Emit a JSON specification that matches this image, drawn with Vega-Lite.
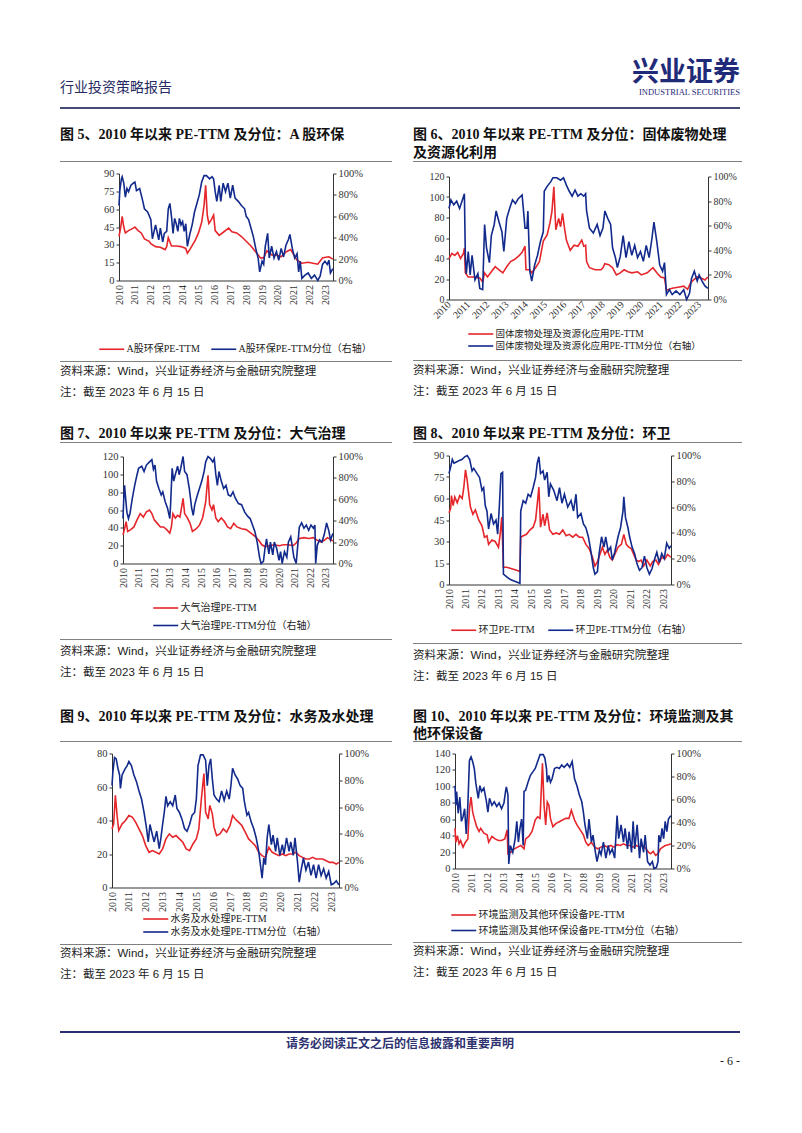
{
"$schema": "https://vega.github.io/schema/vega-lite/v6.json",
"background": "white",
"padding": {"left": 60, "top": 58, "right": 0, "bottom": 0},
"spacing": 0,
"datasets": {
"d5a": [{"t":2010,"v":37},{"t":2010.1,"v":44},{"t":2010.2,"v":54},{"t":2010.3,"v":45},{"t":2010.4,"v":40},{"t":2010.6,"v":42},{"t":2010.9,"v":44},{"t":2011,"v":45},{"t":2011.2,"v":42},{"t":2011.4,"v":40},{"t":2011.6,"v":35},{"t":2011.9,"v":33},{"t":2012,"v":31},{"t":2012.3,"v":28.5},{"t":2012.6,"v":28},{"t":2012.9,"v":26},{"t":2013,"v":28.5},{"t":2013.1,"v":36},{"t":2013.3,"v":29},{"t":2013.6,"v":29},{"t":2013.9,"v":28.5},{"t":2014.2,"v":27},{"t":2014.3,"v":23},{"t":2014.5,"v":27},{"t":2014.8,"v":34},{"t":2015,"v":40},{"t":2015.2,"v":49},{"t":2015.35,"v":63},{"t":2015.45,"v":80},{"t":2015.55,"v":55},{"t":2015.65,"v":48},{"t":2015.8,"v":51},{"t":2015.95,"v":55},{"t":2016.05,"v":42},{"t":2016.3,"v":38},{"t":2016.6,"v":41},{"t":2016.9,"v":44},{"t":2017.1,"v":41},{"t":2017.4,"v":40},{"t":2017.7,"v":37},{"t":2018,"v":33},{"t":2018.3,"v":29},{"t":2018.6,"v":24},{"t":2018.9,"v":19},{"t":2019.1,"v":19},{"t":2019.3,"v":25},{"t":2019.6,"v":21.5},{"t":2019.9,"v":21.5},{"t":2020.2,"v":20},{"t":2020.5,"v":24},{"t":2020.8,"v":26},{"t":2021,"v":21.5},{"t":2021.2,"v":17},{"t":2021.5,"v":14.5},{"t":2021.9,"v":15.4},{"t":2022.2,"v":14.5},{"t":2022.5,"v":13.7},{"t":2022.8,"v":19},{"t":2023,"v":19.5},{"t":2023.2,"v":20},{"t":2023.45,"v":18}],
"d5b": [{"t":2010,"v":70},{"t":2010.05,"v":84},{"t":2010.15,"v":95},{"t":2010.2,"v":97},{"t":2010.3,"v":91},{"t":2010.4,"v":78},{"t":2010.5,"v":86},{"t":2010.6,"v":83},{"t":2010.75,"v":89},{"t":2010.9,"v":91},{"t":2011,"v":92},{"t":2011.1,"v":84},{"t":2011.3,"v":86},{"t":2011.5,"v":74},{"t":2011.6,"v":67},{"t":2011.8,"v":64},{"t":2012,"v":57},{"t":2012.1,"v":39},{"t":2012.3,"v":52},{"t":2012.5,"v":38},{"t":2012.6,"v":49},{"t":2012.75,"v":36},{"t":2012.85,"v":44},{"t":2013,"v":46},{"t":2013.1,"v":67},{"t":2013.2,"v":72},{"t":2013.3,"v":60},{"t":2013.4,"v":44},{"t":2013.5,"v":58},{"t":2013.6,"v":53},{"t":2013.7,"v":46},{"t":2013.8,"v":58},{"t":2013.9,"v":52},{"t":2014,"v":55},{"t":2014.1,"v":46},{"t":2014.2,"v":53},{"t":2014.3,"v":32},{"t":2014.45,"v":43},{"t":2014.6,"v":52},{"t":2014.75,"v":64},{"t":2014.9,"v":72},{"t":2015.05,"v":80},{"t":2015.2,"v":92},{"t":2015.35,"v":98},{"t":2015.5,"v":98},{"t":2015.7,"v":95},{"t":2015.85,"v":97},{"t":2015.95,"v":95},{"t":2016.05,"v":83},{"t":2016.15,"v":74},{"t":2016.3,"v":89},{"t":2016.4,"v":74},{"t":2016.55,"v":91},{"t":2016.7,"v":83},{"t":2016.85,"v":91},{"t":2017,"v":77},{"t":2017.15,"v":89},{"t":2017.3,"v":77},{"t":2017.5,"v":74},{"t":2017.7,"v":70},{"t":2017.9,"v":67},{"t":2018,"v":60},{"t":2018.15,"v":57},{"t":2018.3,"v":49},{"t":2018.45,"v":41},{"t":2018.6,"v":30},{"t":2018.75,"v":21},{"t":2018.85,"v":8},{"t":2019,"v":18},{"t":2019.1,"v":15},{"t":2019.2,"v":32},{"t":2019.35,"v":44},{"t":2019.45,"v":21},{"t":2019.6,"v":32},{"t":2019.75,"v":21},{"t":2019.9,"v":27},{"t":2020.05,"v":19},{"t":2020.2,"v":30},{"t":2020.35,"v":22},{"t":2020.5,"v":33},{"t":2020.65,"v":38},{"t":2020.75,"v":43},{"t":2020.9,"v":30},{"t":2021.05,"v":21},{"t":2021.2,"v":25},{"t":2021.3,"v":8},{"t":2021.4,"v":18},{"t":2021.5,"v":2},{"t":2021.7,"v":5},{"t":2021.9,"v":7},{"t":2022.1,"v":2},{"t":2022.3,"v":5},{"t":2022.5,"v":0},{"t":2022.65,"v":4},{"t":2022.8,"v":15},{"t":2022.95,"v":18},{"t":2023.1,"v":15},{"t":2023.2,"v":19},{"t":2023.3,"v":7},{"t":2023.45,"v":11}],
"d6a": [{"t":2010,"v":40},{"t":2010.15,"v":45},{"t":2010.3,"v":43},{"t":2010.45,"v":46},{"t":2010.6,"v":40},{"t":2010.75,"v":45},{"t":2010.8,"v":50},{"t":2010.85,"v":26},{"t":2011,"v":22},{"t":2011.3,"v":22},{"t":2011.6,"v":21},{"t":2011.75,"v":17},{"t":2011.85,"v":26},{"t":2012,"v":22},{"t":2012.2,"v":27},{"t":2012.4,"v":32},{"t":2012.6,"v":29},{"t":2012.8,"v":26},{"t":2013,"v":32},{"t":2013.2,"v":37},{"t":2013.4,"v":39},{"t":2013.6,"v":42},{"t":2013.8,"v":46},{"t":2013.95,"v":52},{"t":2014,"v":29},{"t":2014.2,"v":29},{"t":2014.3,"v":26},{"t":2014.5,"v":31},{"t":2014.7,"v":37},{"t":2014.9,"v":57},{"t":2015.1,"v":63},{"t":2015.25,"v":75},{"t":2015.35,"v":86},{"t":2015.45,"v":110},{"t":2015.55,"v":68},{"t":2015.7,"v":79},{"t":2015.8,"v":71},{"t":2015.9,"v":84},{"t":2016,"v":70},{"t":2016.1,"v":58},{"t":2016.3,"v":48},{"t":2016.5,"v":53},{"t":2016.7,"v":52},{"t":2016.9,"v":58},{"t":2017,"v":52},{"t":2017.1,"v":53},{"t":2017.15,"v":37},{"t":2017.3,"v":31},{"t":2017.6,"v":29},{"t":2017.9,"v":29},{"t":2018,"v":31},{"t":2018.1,"v":35},{"t":2018.3,"v":34},{"t":2018.5,"v":31},{"t":2018.7,"v":24},{"t":2018.9,"v":26},{"t":2019.1,"v":29},{"t":2019.3,"v":27},{"t":2019.5,"v":26},{"t":2019.8,"v":27},{"t":2020,"v":24},{"t":2020.3,"v":26},{"t":2020.6,"v":31},{"t":2020.8,"v":26},{"t":2021,"v":22},{"t":2021.2,"v":21},{"t":2021.3,"v":9},{"t":2021.6,"v":11},{"t":2021.9,"v":12},{"t":2022.2,"v":13},{"t":2022.4,"v":10},{"t":2022.55,"v":16},{"t":2022.7,"v":19},{"t":2022.9,"v":22},{"t":2023.1,"v":21},{"t":2023.3,"v":19},{"t":2023.45,"v":22}],
"d6b": [{"t":2010,"v":74},{"t":2010.1,"v":81},{"t":2010.25,"v":77},{"t":2010.4,"v":80},{"t":2010.55,"v":74},{"t":2010.7,"v":81},{"t":2010.8,"v":86},{"t":2010.85,"v":34},{"t":2010.9,"v":21},{"t":2011,"v":39},{"t":2011.1,"v":20},{"t":2011.2,"v":36},{"t":2011.35,"v":16},{"t":2011.5,"v":21},{"t":2011.6,"v":9},{"t":2011.75,"v":8},{"t":2011.85,"v":61},{"t":2011.95,"v":42},{"t":2012.1,"v":30},{"t":2012.2,"v":52},{"t":2012.35,"v":61},{"t":2012.45,"v":72},{"t":2012.6,"v":63},{"t":2012.75,"v":55},{"t":2012.85,"v":39},{"t":2013,"v":66},{"t":2013.15,"v":74},{"t":2013.3,"v":81},{"t":2013.45,"v":78},{"t":2013.6,"v":82},{"t":2013.8,"v":85},{"t":2013.95,"v":58},{"t":2014.05,"v":58},{"t":2014.1,"v":72},{"t":2014.2,"v":23},{"t":2014.3,"v":15},{"t":2014.45,"v":28},{"t":2014.6,"v":36},{"t":2014.75,"v":47},{"t":2014.9,"v":55},{"t":2014.95,"v":88},{"t":2015.1,"v":92},{"t":2015.3,"v":96},{"t":2015.4,"v":99},{"t":2015.6,"v":99},{"t":2015.8,"v":97},{"t":2015.95,"v":99},{"t":2016.1,"v":93},{"t":2016.25,"v":88},{"t":2016.4,"v":84},{"t":2016.55,"v":89},{"t":2016.7,"v":84},{"t":2016.85,"v":86},{"t":2017,"v":84},{"t":2017.1,"v":86},{"t":2017.15,"v":72},{"t":2017.3,"v":58},{"t":2017.5,"v":54},{"t":2017.7,"v":61},{"t":2017.85,"v":52},{"t":2018,"v":58},{"t":2018.1,"v":72},{"t":2018.25,"v":66},{"t":2018.4,"v":61},{"t":2018.5,"v":42},{"t":2018.65,"v":34},{"t":2018.75,"v":26},{"t":2018.9,"v":35},{"t":2019.05,"v":52},{"t":2019.2,"v":34},{"t":2019.35,"v":47},{"t":2019.5,"v":36},{"t":2019.65,"v":44},{"t":2019.8,"v":34},{"t":2019.95,"v":39},{"t":2020.1,"v":31},{"t":2020.25,"v":44},{"t":2020.4,"v":34},{"t":2020.55,"v":50},{"t":2020.65,"v":63},{"t":2020.8,"v":47},{"t":2020.95,"v":28},{"t":2021.1,"v":23},{"t":2021.2,"v":30},{"t":2021.3,"v":4},{"t":2021.45,"v":8},{"t":2021.6,"v":4},{"t":2021.8,"v":7},{"t":2022,"v":4},{"t":2022.2,"v":8},{"t":2022.35,"v":0},{"t":2022.5,"v":5},{"t":2022.6,"v":17},{"t":2022.75,"v":23},{"t":2022.9,"v":15},{"t":2023,"v":20},{"t":2023.15,"v":15},{"t":2023.3,"v":11},{"t":2023.45,"v":9}],
"d7a": [{"t":2010,"v":32},{"t":2010.1,"v":39},{"t":2010.2,"v":47},{"t":2010.3,"v":36},{"t":2010.5,"v":38},{"t":2010.7,"v":41},{"t":2010.9,"v":49},{"t":2011.1,"v":56},{"t":2011.3,"v":52},{"t":2011.5,"v":58},{"t":2011.7,"v":60},{"t":2011.85,"v":56},{"t":2012,"v":49},{"t":2012.2,"v":45},{"t":2012.4,"v":41},{"t":2012.6,"v":41},{"t":2012.8,"v":38},{"t":2013,"v":34},{"t":2013.1,"v":41},{"t":2013.2,"v":56},{"t":2013.35,"v":51},{"t":2013.5,"v":54},{"t":2013.65,"v":52},{"t":2013.85,"v":73},{"t":2013.95,"v":56},{"t":2014.1,"v":52},{"t":2014.3,"v":45},{"t":2014.45,"v":36},{"t":2014.7,"v":39},{"t":2014.9,"v":43},{"t":2015.1,"v":51},{"t":2015.3,"v":69},{"t":2015.45,"v":99},{"t":2015.55,"v":66},{"t":2015.7,"v":60},{"t":2015.8,"v":66},{"t":2015.95,"v":51},{"t":2016.1,"v":47},{"t":2016.3,"v":51},{"t":2016.5,"v":47},{"t":2016.7,"v":41},{"t":2016.9,"v":39},{"t":2017.1,"v":45},{"t":2017.3,"v":41},{"t":2017.6,"v":39},{"t":2017.9,"v":38},{"t":2018.2,"v":34},{"t":2018.5,"v":30},{"t":2018.7,"v":26},{"t":2018.9,"v":21},{"t":2019.1,"v":19},{"t":2019.4,"v":20},{"t":2019.7,"v":21},{"t":2020,"v":20},{"t":2020.3,"v":21},{"t":2020.6,"v":21},{"t":2020.9,"v":20},{"t":2021.1,"v":23},{"t":2021.3,"v":28},{"t":2021.6,"v":29},{"t":2021.9,"v":28},{"t":2022.2,"v":29},{"t":2022.45,"v":26},{"t":2022.7,"v":24},{"t":2022.9,"v":26},{"t":2023.1,"v":29},{"t":2023.3,"v":27},{"t":2023.45,"v":25}],
"d7b": [{"t":2010,"v":42},{"t":2010.05,"v":61},{"t":2010.1,"v":73},{"t":2010.15,"v":64},{"t":2010.25,"v":48},{"t":2010.35,"v":42},{"t":2010.45,"v":47},{"t":2010.6,"v":61},{"t":2010.75,"v":73},{"t":2010.9,"v":83},{"t":2011,"v":89},{"t":2011.2,"v":91},{"t":2011.35,"v":86},{"t":2011.5,"v":92},{"t":2011.7,"v":95},{"t":2011.85,"v":97},{"t":2011.95,"v":88},{"t":2012.05,"v":92},{"t":2012.15,"v":77},{"t":2012.3,"v":70},{"t":2012.45,"v":64},{"t":2012.55,"v":67},{"t":2012.7,"v":58},{"t":2012.85,"v":52},{"t":2013,"v":42},{"t":2013.05,"v":55},{"t":2013.15,"v":89},{"t":2013.25,"v":77},{"t":2013.35,"v":83},{"t":2013.5,"v":91},{"t":2013.6,"v":83},{"t":2013.7,"v":89},{"t":2013.85,"v":100},{"t":2013.95,"v":86},{"t":2014.1,"v":83},{"t":2014.25,"v":70},{"t":2014.4,"v":52},{"t":2014.5,"v":45},{"t":2014.6,"v":55},{"t":2014.75,"v":63},{"t":2014.9,"v":70},{"t":2015.05,"v":77},{"t":2015.2,"v":86},{"t":2015.3,"v":95},{"t":2015.45,"v":100},{"t":2015.6,"v":98},{"t":2015.75,"v":95},{"t":2015.85,"v":98},{"t":2015.95,"v":83},{"t":2016.05,"v":73},{"t":2016.15,"v":86},{"t":2016.3,"v":77},{"t":2016.45,"v":70},{"t":2016.6,"v":73},{"t":2016.75,"v":64},{"t":2016.9,"v":63},{"t":2017.05,"v":67},{"t":2017.2,"v":61},{"t":2017.4,"v":56},{"t":2017.6,"v":55},{"t":2017.8,"v":48},{"t":2018,"v":44},{"t":2018.15,"v":42},{"t":2018.3,"v":36},{"t":2018.45,"v":30},{"t":2018.6,"v":20},{"t":2018.75,"v":6},{"t":2018.85,"v":0},{"t":2019,"v":2},{"t":2019.1,"v":14},{"t":2019.2,"v":23},{"t":2019.35,"v":9},{"t":2019.45,"v":20},{"t":2019.6,"v":8},{"t":2019.7,"v":20},{"t":2019.85,"v":14},{"t":2020,"v":3},{"t":2020.1,"v":11},{"t":2020.2,"v":0},{"t":2020.35,"v":11},{"t":2020.5,"v":6},{"t":2020.6,"v":20},{"t":2020.75,"v":25},{"t":2020.85,"v":16},{"t":2020.95,"v":6},{"t":2021.1,"v":0},{"t":2021.2,"v":17},{"t":2021.3,"v":34},{"t":2021.45,"v":38},{"t":2021.6,"v":33},{"t":2021.75,"v":36},{"t":2021.9,"v":31},{"t":2022.05,"v":36},{"t":2022.2,"v":33},{"t":2022.3,"v":36},{"t":2022.35,"v":0},{"t":2022.45,"v":17},{"t":2022.6,"v":22},{"t":2022.75,"v":20},{"t":2022.9,"v":27},{"t":2023.05,"v":38},{"t":2023.2,"v":30},{"t":2023.3,"v":22},{"t":2023.45,"v":28}],
"d8a": [{"t":2010,"v":50},{"t":2010.1,"v":53},{"t":2010.15,"v":62},{"t":2010.25,"v":55},{"t":2010.35,"v":61},{"t":2010.5,"v":57},{"t":2010.65,"v":62},{"t":2010.8,"v":60},{"t":2010.9,"v":68},{"t":2011,"v":80},{"t":2011.1,"v":73},{"t":2011.2,"v":63},{"t":2011.3,"v":54},{"t":2011.45,"v":49},{"t":2011.6,"v":52},{"t":2011.8,"v":45},{"t":2012,"v":41},{"t":2012.15,"v":33},{"t":2012.3,"v":34},{"t":2012.4,"v":28},{"t":2012.6,"v":31},{"t":2012.8,"v":30},{"t":2013,"v":26},{"t":2013.1,"v":35},{"t":2013.2,"v":47},{"t":2013.3,"v":12},{"t":2013.5,"v":12},{"t":2013.8,"v":11},{"t":2014.1,"v":10},{"t":2014.3,"v":9},{"t":2014.35,"v":33},{"t":2014.5,"v":34},{"t":2014.7,"v":35},{"t":2014.9,"v":38},{"t":2015.1,"v":40},{"t":2015.25,"v":45},{"t":2015.35,"v":56},{"t":2015.45,"v":68},{"t":2015.55,"v":40},{"t":2015.7,"v":49},{"t":2015.8,"v":41},{"t":2015.95,"v":50},{"t":2016.1,"v":38},{"t":2016.3,"v":35},{"t":2016.5,"v":36},{"t":2016.7,"v":35},{"t":2016.9,"v":38},{"t":2017.1,"v":34},{"t":2017.3,"v":35},{"t":2017.5,"v":33},{"t":2017.7,"v":35},{"t":2017.9,"v":33},{"t":2018.1,"v":33},{"t":2018.3,"v":28},{"t":2018.5,"v":25},{"t":2018.7,"v":19},{"t":2018.85,"v":13},{"t":2019,"v":16},{"t":2019.15,"v":21},{"t":2019.3,"v":26},{"t":2019.45,"v":21},{"t":2019.6,"v":24},{"t":2019.75,"v":19},{"t":2019.9,"v":17},{"t":2020.05,"v":21},{"t":2020.25,"v":26},{"t":2020.45,"v":28},{"t":2020.6,"v":35},{"t":2020.75,"v":28},{"t":2020.9,"v":26},{"t":2021.05,"v":25},{"t":2021.2,"v":21},{"t":2021.35,"v":17},{"t":2021.5,"v":16},{"t":2021.65,"v":17},{"t":2021.8,"v":13},{"t":2022,"v":17},{"t":2022.2,"v":13},{"t":2022.35,"v":16},{"t":2022.55,"v":17},{"t":2022.7,"v":14},{"t":2022.9,"v":19},{"t":2023.1,"v":18},{"t":2023.25,"v":21},{"t":2023.45,"v":19}],
"d8b": [{"t":2010,"v":86},{"t":2010.1,"v":91},{"t":2010.2,"v":97},{"t":2010.3,"v":94},{"t":2010.45,"v":95},{"t":2010.6,"v":96},{"t":2010.8,"v":97},{"t":2010.95,"v":99},{"t":2011.1,"v":100},{"t":2011.25,"v":97},{"t":2011.4,"v":88},{"t":2011.5,"v":90},{"t":2011.7,"v":86},{"t":2011.85,"v":83},{"t":2012,"v":73},{"t":2012.1,"v":75},{"t":2012.2,"v":61},{"t":2012.3,"v":57},{"t":2012.4,"v":43},{"t":2012.55,"v":55},{"t":2012.7,"v":47},{"t":2012.85,"v":50},{"t":2012.95,"v":39},{"t":2013.05,"v":60},{"t":2013.15,"v":86},{"t":2013.25,"v":87},{"t":2013.3,"v":8},{"t":2013.5,"v":6},{"t":2013.7,"v":4},{"t":2013.9,"v":3},{"t":2014.1,"v":2},{"t":2014.3,"v":1},{"t":2014.35,"v":57},{"t":2014.5,"v":65},{"t":2014.65,"v":63},{"t":2014.8,"v":70},{"t":2014.95,"v":68},{"t":2015.1,"v":75},{"t":2015.25,"v":83},{"t":2015.35,"v":94},{"t":2015.45,"v":99},{"t":2015.55,"v":86},{"t":2015.7,"v":88},{"t":2015.8,"v":81},{"t":2015.95,"v":87},{"t":2016.05,"v":68},{"t":2016.15,"v":78},{"t":2016.35,"v":73},{"t":2016.55,"v":65},{"t":2016.7,"v":75},{"t":2016.85,"v":63},{"t":2017,"v":70},{"t":2017.2,"v":60},{"t":2017.4,"v":65},{"t":2017.55,"v":57},{"t":2017.7,"v":70},{"t":2017.8,"v":52},{"t":2018,"v":55},{"t":2018.15,"v":47},{"t":2018.3,"v":44},{"t":2018.45,"v":37},{"t":2018.6,"v":26},{"t":2018.75,"v":13},{"t":2018.85,"v":8},{"t":2019,"v":10},{"t":2019.1,"v":24},{"t":2019.25,"v":37},{"t":2019.4,"v":29},{"t":2019.5,"v":37},{"t":2019.65,"v":26},{"t":2019.8,"v":29},{"t":2019.9,"v":19},{"t":2020.05,"v":25},{"t":2020.25,"v":37},{"t":2020.4,"v":44},{"t":2020.55,"v":57},{"t":2020.6,"v":68},{"t":2020.7,"v":52},{"t":2020.85,"v":44},{"t":2020.95,"v":37},{"t":2021.1,"v":29},{"t":2021.25,"v":24},{"t":2021.4,"v":16},{"t":2021.55,"v":11},{"t":2021.7,"v":13},{"t":2021.85,"v":22},{"t":2022,"v":13},{"t":2022.15,"v":8},{"t":2022.3,"v":12},{"t":2022.45,"v":19},{"t":2022.6,"v":25},{"t":2022.75,"v":17},{"t":2022.9,"v":24},{"t":2023.05,"v":20},{"t":2023.2,"v":32},{"t":2023.35,"v":28},{"t":2023.45,"v":30}],
"d9a": [{"t":2010,"v":35},{"t":2010.1,"v":38},{"t":2010.2,"v":55},{"t":2010.3,"v":43},{"t":2010.4,"v":34},{"t":2010.6,"v":38},{"t":2010.8,"v":40},{"t":2011,"v":43},{"t":2011.2,"v":42},{"t":2011.4,"v":39},{"t":2011.6,"v":35},{"t":2011.8,"v":31},{"t":2012,"v":25},{"t":2012.2,"v":21},{"t":2012.4,"v":22},{"t":2012.6,"v":21},{"t":2012.8,"v":20},{"t":2013,"v":23},{"t":2013.2,"v":29},{"t":2013.4,"v":32},{"t":2013.6,"v":30},{"t":2013.8,"v":31},{"t":2014,"v":29},{"t":2014.2,"v":27},{"t":2014.4,"v":23},{"t":2014.6,"v":22},{"t":2014.8,"v":26},{"t":2015,"v":29},{"t":2015.15,"v":35},{"t":2015.3,"v":53},{"t":2015.45,"v":68},{"t":2015.55,"v":45},{"t":2015.7,"v":41},{"t":2015.8,"v":49},{"t":2015.95,"v":44},{"t":2016.05,"v":36},{"t":2016.2,"v":31},{"t":2016.4,"v":32},{"t":2016.6,"v":35},{"t":2016.8,"v":33},{"t":2017,"v":37},{"t":2017.15,"v":43},{"t":2017.3,"v":41},{"t":2017.5,"v":39},{"t":2017.7,"v":37},{"t":2017.9,"v":33},{"t":2018.1,"v":29},{"t":2018.3,"v":27},{"t":2018.5,"v":25},{"t":2018.7,"v":21},{"t":2018.9,"v":19},{"t":2019.1,"v":18},{"t":2019.3,"v":24},{"t":2019.5,"v":21},{"t":2019.7,"v":20},{"t":2019.9,"v":19},{"t":2020.1,"v":20},{"t":2020.3,"v":19},{"t":2020.5,"v":20},{"t":2020.7,"v":20},{"t":2020.9,"v":21},{"t":2021.1,"v":19},{"t":2021.3,"v":18},{"t":2021.5,"v":17},{"t":2021.7,"v":17},{"t":2021.9,"v":18},{"t":2022.1,"v":17},{"t":2022.3,"v":17},{"t":2022.5,"v":17},{"t":2022.7,"v":16},{"t":2022.9,"v":15},{"t":2023.1,"v":15},{"t":2023.3,"v":14},{"t":2023.45,"v":15}],
"d9b": [{"t":2010,"v":76},{"t":2010.05,"v":86},{"t":2010.15,"v":97},{"t":2010.25,"v":96},{"t":2010.35,"v":89},{"t":2010.45,"v":84},{"t":2010.5,"v":74},{"t":2010.6,"v":84},{"t":2010.75,"v":88},{"t":2010.9,"v":91},{"t":2011,"v":94},{"t":2011.15,"v":91},{"t":2011.3,"v":84},{"t":2011.45,"v":79},{"t":2011.6,"v":72},{"t":2011.75,"v":66},{"t":2011.9,"v":56},{"t":2012.05,"v":44},{"t":2012.15,"v":34},{"t":2012.25,"v":47},{"t":2012.4,"v":39},{"t":2012.5,"v":34},{"t":2012.65,"v":42},{"t":2012.8,"v":29},{"t":2012.9,"v":37},{"t":2013,"v":47},{"t":2013.1,"v":56},{"t":2013.2,"v":68},{"t":2013.3,"v":61},{"t":2013.45,"v":64},{"t":2013.6,"v":61},{"t":2013.75,"v":69},{"t":2013.85,"v":59},{"t":2014,"v":56},{"t":2014.15,"v":51},{"t":2014.3,"v":44},{"t":2014.45,"v":42},{"t":2014.6,"v":47},{"t":2014.75,"v":54},{"t":2014.9,"v":56},{"t":2015,"v":66},{"t":2015.1,"v":91},{"t":2015.25,"v":99},{"t":2015.4,"v":99},{"t":2015.55,"v":95},{"t":2015.65,"v":76},{"t":2015.75,"v":91},{"t":2015.85,"v":96},{"t":2015.95,"v":81},{"t":2016.05,"v":69},{"t":2016.2,"v":66},{"t":2016.35,"v":64},{"t":2016.5,"v":72},{"t":2016.65,"v":65},{"t":2016.8,"v":72},{"t":2016.95,"v":66},{"t":2017.05,"v":76},{"t":2017.15,"v":89},{"t":2017.3,"v":84},{"t":2017.45,"v":81},{"t":2017.6,"v":76},{"t":2017.75,"v":74},{"t":2017.85,"v":64},{"t":2018,"v":54},{"t":2018.1,"v":56},{"t":2018.25,"v":49},{"t":2018.4,"v":44},{"t":2018.55,"v":37},{"t":2018.7,"v":27},{"t":2018.8,"v":17},{"t":2018.9,"v":7},{"t":2019,"v":22},{"t":2019.1,"v":17},{"t":2019.2,"v":37},{"t":2019.3,"v":47},{"t":2019.45,"v":32},{"t":2019.55,"v":39},{"t":2019.7,"v":27},{"t":2019.8,"v":37},{"t":2019.95,"v":24},{"t":2020.1,"v":32},{"t":2020.2,"v":25},{"t":2020.35,"v":37},{"t":2020.5,"v":27},{"t":2020.6,"v":34},{"t":2020.75,"v":24},{"t":2020.85,"v":37},{"t":2021,"v":19},{"t":2021.1,"v":4},{"t":2021.2,"v":12},{"t":2021.35,"v":22},{"t":2021.5,"v":13},{"t":2021.65,"v":19},{"t":2021.8,"v":9},{"t":2021.95,"v":17},{"t":2022.1,"v":7},{"t":2022.25,"v":17},{"t":2022.4,"v":9},{"t":2022.55,"v":14},{"t":2022.7,"v":7},{"t":2022.85,"v":12},{"t":2023,"v":2},{"t":2023.15,"v":3},{"t":2023.3,"v":5},{"t":2023.45,"v":2}],
"d10a": [{"t":2010,"v":49},{"t":2010.05,"v":32},{"t":2010.15,"v":40},{"t":2010.25,"v":30},{"t":2010.35,"v":34},{"t":2010.5,"v":26},{"t":2010.65,"v":32},{"t":2010.8,"v":36},{"t":2010.9,"v":73},{"t":2011,"v":87},{"t":2011.1,"v":69},{"t":2011.2,"v":61},{"t":2011.35,"v":51},{"t":2011.5,"v":45},{"t":2011.6,"v":49},{"t":2011.8,"v":43},{"t":2012,"v":41},{"t":2012.1,"v":32},{"t":2012.3,"v":39},{"t":2012.5,"v":36},{"t":2012.7,"v":34},{"t":2012.9,"v":34},{"t":2013.1,"v":36},{"t":2013.25,"v":47},{"t":2013.3,"v":18},{"t":2013.5,"v":20},{"t":2013.7,"v":24},{"t":2013.9,"v":26},{"t":2014.1,"v":28},{"t":2014.3,"v":24},{"t":2014.4,"v":36},{"t":2014.6,"v":39},{"t":2014.8,"v":45},{"t":2015,"v":59},{"t":2015.15,"v":63},{"t":2015.3,"v":61},{"t":2015.45,"v":128},{"t":2015.55,"v":77},{"t":2015.65,"v":53},{"t":2015.75,"v":81},{"t":2015.85,"v":77},{"t":2015.95,"v":61},{"t":2016.1,"v":51},{"t":2016.3,"v":55},{"t":2016.5,"v":57},{"t":2016.7,"v":59},{"t":2016.9,"v":61},{"t":2017.1,"v":61},{"t":2017.25,"v":71},{"t":2017.45,"v":59},{"t":2017.6,"v":53},{"t":2017.8,"v":47},{"t":2018,"v":41},{"t":2018.15,"v":32},{"t":2018.3,"v":28},{"t":2018.5,"v":32},{"t":2018.7,"v":26},{"t":2018.9,"v":24},{"t":2019.1,"v":26},{"t":2019.3,"v":28},{"t":2019.5,"v":26},{"t":2019.7,"v":28},{"t":2019.9,"v":26},{"t":2020.1,"v":29},{"t":2020.3,"v":28},{"t":2020.5,"v":30},{"t":2020.7,"v":28},{"t":2020.9,"v":28},{"t":2021.1,"v":26},{"t":2021.3,"v":28},{"t":2021.5,"v":26},{"t":2021.7,"v":28},{"t":2021.9,"v":24},{"t":2022.05,"v":20},{"t":2022.2,"v":18},{"t":2022.35,"v":21},{"t":2022.5,"v":16},{"t":2022.65,"v":18},{"t":2022.8,"v":24},{"t":2022.95,"v":26},{"t":2023.1,"v":28},{"t":2023.3,"v":29},{"t":2023.45,"v":30}],
"d10b": [{"t":2010,"v":72},{"t":2010.05,"v":55},{"t":2010.1,"v":67},{"t":2010.2,"v":48},{"t":2010.3,"v":62},{"t":2010.4,"v":41},{"t":2010.5,"v":45},{"t":2010.6,"v":52},{"t":2010.7,"v":30},{"t":2010.8,"v":55},{"t":2010.9,"v":94},{"t":2011,"v":97},{"t":2011.1,"v":93},{"t":2011.2,"v":87},{"t":2011.3,"v":74},{"t":2011.45,"v":61},{"t":2011.55,"v":72},{"t":2011.65,"v":67},{"t":2011.8,"v":70},{"t":2011.95,"v":59},{"t":2012.05,"v":49},{"t":2012.15,"v":61},{"t":2012.3,"v":55},{"t":2012.45,"v":58},{"t":2012.6,"v":54},{"t":2012.75,"v":57},{"t":2012.9,"v":52},{"t":2013.05,"v":57},{"t":2013.15,"v":67},{"t":2013.2,"v":71},{"t":2013.3,"v":64},{"t":2013.35,"v":4},{"t":2013.45,"v":20},{"t":2013.6,"v":14},{"t":2013.75,"v":26},{"t":2013.85,"v":41},{"t":2013.95,"v":23},{"t":2014.05,"v":35},{"t":2014.15,"v":43},{"t":2014.25,"v":20},{"t":2014.3,"v":67},{"t":2014.4,"v":68},{"t":2014.55,"v":75},{"t":2014.7,"v":81},{"t":2014.85,"v":84},{"t":2015,"v":87},{"t":2015.15,"v":93},{"t":2015.3,"v":99},{"t":2015.5,"v":99},{"t":2015.6,"v":96},{"t":2015.7,"v":87},{"t":2015.75,"v":75},{"t":2015.85,"v":81},{"t":2015.95,"v":75},{"t":2016.05,"v":78},{"t":2016.2,"v":87},{"t":2016.35,"v":88},{"t":2016.5,"v":87},{"t":2016.65,"v":90},{"t":2016.8,"v":88},{"t":2017,"v":91},{"t":2017.15,"v":88},{"t":2017.3,"v":93},{"t":2017.45,"v":78},{"t":2017.6,"v":72},{"t":2017.75,"v":64},{"t":2017.9,"v":58},{"t":2018,"v":49},{"t":2018.1,"v":38},{"t":2018.25,"v":26},{"t":2018.35,"v":43},{"t":2018.5,"v":23},{"t":2018.6,"v":29},{"t":2018.75,"v":14},{"t":2018.85,"v":6},{"t":2019,"v":16},{"t":2019.1,"v":12},{"t":2019.25,"v":23},{"t":2019.4,"v":9},{"t":2019.55,"v":20},{"t":2019.65,"v":13},{"t":2019.8,"v":17},{"t":2019.95,"v":9},{"t":2020.1,"v":46},{"t":2020.2,"v":26},{"t":2020.35,"v":38},{"t":2020.5,"v":23},{"t":2020.6,"v":35},{"t":2020.75,"v":17},{"t":2020.85,"v":32},{"t":2021,"v":14},{"t":2021.1,"v":41},{"t":2021.2,"v":17},{"t":2021.35,"v":38},{"t":2021.5,"v":9},{"t":2021.6,"v":26},{"t":2021.75,"v":14},{"t":2021.85,"v":29},{"t":2022,"v":6},{"t":2022.15,"v":3},{"t":2022.3,"v":6},{"t":2022.4,"v":0},{"t":2022.55,"v":1},{"t":2022.65,"v":6},{"t":2022.7,"v":29},{"t":2022.8,"v":23},{"t":2022.9,"v":35},{"t":2023,"v":26},{"t":2023.1,"v":41},{"t":2023.2,"v":32},{"t":2023.3,"v":43},{"t":2023.45,"v":46}]
},
"resolve": {"scale": {"color": "independent"}, "legend": {"color": "independent"}},
"vconcat": [
{"hconcat": [
  {"width": 520, "height": 2, "view": {"fill": "#474b78", "stroke": null}, "data": {"values": []}, "mark": "point",
   "title": {"text": "行业投资策略报告", "anchor": "start", "fontSize": 14, "fontWeight": "normal", "font": "Noto Sans CJK SC", "color": "#262b63", "offset": 12}},
  {"width": 160, "height": 2, "view": {"fill": "#474b78", "stroke": null}, "data": {"values": []}, "mark": "point",
   "title": {"text": "兴业证券", "subtitle": "INDUSTRIAL SECURITIES", "anchor": "end", "fontSize": 27, "fontWeight": "bold", "font": "Noto Sans CJK SC", "color": "#1f2a78", "subtitleFont": "Liberation Serif", "subtitleFontSize": 8.5, "subtitleColor": "#1f2a78", "subtitlePadding": 1, "offset": 10}}
 ], "spacing": 0, "bounds": "flush"},
{"width": 1, "height": 19, "data": {"values": []}, "mark": "point"},
{"hconcat": [
 {"vconcat": [
  {"width": 332, "height": 1, "view": {"fill": "#808080", "stroke": null}, "data": {"values": []}, "mark": "point",
   "title": {"text": "图 5、2010 年以来 PE-TTM 及分位：A 股环保", "offset": 19}},
  {"hconcat": [
   {"width": 29, "height": 1, "data": {"values": []}, "mark": "point"},
   {"width": 214, "height": 107,
    "encoding": {"x": {"field": "t", "type": "quantitative", "scale": {"domain": [2010, 2023.46], "nice": false, "zero": false}, "axis": {"title": null, "values": [2010,2011,2012,2013,2014,2015,2016,2017,2018,2019,2020,2021,2022,2023], "format": "d", "labelAngle": -90, "labelAlign": "right", "labelBaseline": "middle", "labelOverlap": false, "ticks": false, "labelPadding": 4, "labelFontSize": 10}}},
    "layer": [
     {"data": {"name": "d5a"}, "mark": {"type": "line", "strokeWidth": 1.6},
      "encoding": {
       "y": {"field": "v", "type": "quantitative", "scale": {"domain": [0, 90], "nice": false}, "axis": {"title": null, "orient": "left", "values": [0,15,30,45,60,75,90], "minExtent": 30}},
       "color": {"datum": "A股环保PE-TTM", "type": "nominal", "scale": {"domain": ["A股环保PE-TTM", "A股环保PE-TTM分位（右轴）"], "range": ["#e5262b", "#122a8c"]},
         "legend": {"title": null, "orient": "none", "legendX": -21, "legendY": 168, "direction": "horizontal", "labelFontSize": 10, "columnPadding": 8}}}},
     {"data": {"name": "d5b"}, "mark": {"type": "line", "strokeWidth": 1.6},
      "encoding": {
       "y": {"field": "v", "type": "quantitative", "scale": {"domain": [0, 100], "nice": false}, "axis": {"title": null, "orient": "right", "values": [0,20,40,60,80,100], "labelExpr": "datum.value + '%'"}},
       "color": {"datum": "A股环保PE-TTM分位（右轴）", "type": "nominal"}}}
    ],
    "resolve": {"scale": {"y": "independent"}}}
  ], "spacing": 0, "resolve": {"scale": {"color": "independent"}, "legend": {"color": "independent"}}},
  {"width": 332, "height": 1, "view": {"fill": "#808080", "stroke": null}, "data": {"values": []}, "mark": "point",
   "title": {"text": ["资料来源：Wind，兴业证券经济与金融研究院整理", "注：截至 2023 年 6 月 15 日"], "orient": "bottom", "anchor": "start", "fontSize": 11.5, "fontWeight": "normal", "font": "Liberation Sans, Noto Sans CJK SC", "color": "#222222", "lineHeight": 21, "offset": 4}}
 ], "spacing": 6.5, "resolve": {"scale": {"color": "independent"}, "legend": {"color": "independent"}}},
 {"vconcat": [
  {"width": 329, "height": 1, "view": {"fill": "#808080", "stroke": null}, "data": {"values": []}, "mark": "point",
   "title": {"text": ["图 6、2010 年以来 PE-TTM 及分位：固体废物处理", "及资源化利用"], "offset": 1}},
  {"hconcat": [
   {"width": 6, "height": 1, "data": {"values": []}, "mark": "point"},
   {"width": 259, "height": 123,
    "encoding": {"x": {"field": "t", "type": "quantitative", "scale": {"domain": [2010, 2023.46], "nice": false, "zero": false}, "axis": {"title": null, "values": [2010,2011,2012,2013,2014,2015,2016,2017,2018,2019,2020,2021,2022,2023], "format": "d", "labelAngle": -45, "labelAlign": "right", "labelBaseline": "middle", "labelOverlap": false, "ticks": false, "labelPadding": 3, "labelFontSize": 10}}},
    "layer": [
     {"data": {"name": "d6a"}, "mark": {"type": "line", "strokeWidth": 1.6},
      "encoding": {
       "y": {"field": "v", "type": "quantitative", "scale": {"domain": [0, 120], "nice": false}, "axis": {"title": null, "orient": "left", "values": [0,20,40,60,80,100,120], "minExtent": 30, "labelFontSize": 10}},
       "color": {"datum": "固体废物处理及资源化应用PE-TTM", "type": "nominal", "scale": {"domain": ["固体废物处理及资源化应用PE-TTM", "固体废物处理及资源化应用PE-TTM分位（右轴）"], "range": ["#e5262b", "#122a8c"]},
         "legend": {"title": null, "orient": "none", "legendX": 18, "legendY": 150, "direction": "vertical", "labelFontSize": 9.5, "rowPadding": 0}}}},
     {"data": {"name": "d6b"}, "mark": {"type": "line", "strokeWidth": 1.6},
      "encoding": {
       "y": {"field": "v", "type": "quantitative", "scale": {"domain": [0, 100], "nice": false}, "axis": {"title": null, "orient": "right", "values": [0,20,40,60,80,100], "labelExpr": "datum.value + '%'", "labelFontSize": 10}},
       "color": {"datum": "固体废物处理及资源化应用PE-TTM分位（右轴）", "type": "nominal"}}}
    ],
    "resolve": {"scale": {"y": "independent"}}}
  ], "spacing": 0, "resolve": {"scale": {"color": "independent"}, "legend": {"color": "independent"}}},
  {"width": 329, "height": 1, "view": {"fill": "#808080", "stroke": null}, "data": {"values": []}, "mark": "point",
   "title": {"text": ["资料来源：Wind，兴业证券经济与金融研究院整理", "注：截至 2023 年 6 月 15 日"], "orient": "bottom", "anchor": "start", "fontSize": 11.5, "fontWeight": "normal", "font": "Liberation Sans, Noto Sans CJK SC", "color": "#222222", "lineHeight": 21, "offset": 4}}
 ], "spacing": 9.5, "resolve": {"scale": {"color": "independent"}, "legend": {"color": "independent"}}}
], "spacing": 21, "resolve": {"scale": {"color": "independent"}, "legend": {"color": "independent"}}},
{"width": 1, "height": 28, "data": {"values": []}, "mark": "point"},
{"hconcat": [
 {"vconcat": [
  {"width": 332, "height": 1, "view": {"fill": "#808080", "stroke": null}, "data": {"values": []}, "mark": "point",
   "title": {"text": "图 7、2010 年以来 PE-TTM 及分位：大气治理", "offset": 1}},
  {"hconcat": [
   {"width": 33, "height": 1, "data": {"values": []}, "mark": "point"},
   {"width": 210, "height": 107,
    "encoding": {"x": {"field": "t", "type": "quantitative", "scale": {"domain": [2010, 2023.46], "nice": false, "zero": false}, "axis": {"title": null, "values": [2010,2011,2012,2013,2014,2015,2016,2017,2018,2019,2020,2021,2022,2023], "format": "d", "labelAngle": -90, "labelAlign": "right", "labelBaseline": "middle", "labelOverlap": false, "ticks": false, "labelPadding": 4, "labelFontSize": 10}}},
    "layer": [
     {"data": {"name": "d7a"}, "mark": {"type": "line", "strokeWidth": 1.6},
      "encoding": {
       "y": {"field": "v", "type": "quantitative", "scale": {"domain": [0, 120], "nice": false}, "axis": {"title": null, "orient": "left", "values": [0,20,40,60,80,100,120], "minExtent": 30}},
       "color": {"datum": "大气治理PE-TTM", "type": "nominal", "scale": {"domain": ["大气治理PE-TTM", "大气治理PE-TTM分位（右轴）"], "range": ["#e5262b", "#122a8c"]},
         "legend": {"title": null, "orient": "none", "legendX": 29, "legendY": 144, "direction": "vertical", "labelFontSize": 10, "rowPadding": 4.5}}}},
     {"data": {"name": "d7b"}, "mark": {"type": "line", "strokeWidth": 1.6},
      "encoding": {
       "y": {"field": "v", "type": "quantitative", "scale": {"domain": [0, 100], "nice": false}, "axis": {"title": null, "orient": "right", "values": [0,20,40,60,80,100], "labelExpr": "datum.value + '%'"}},
       "color": {"datum": "大气治理PE-TTM分位（右轴）", "type": "nominal"}}}
    ],
    "resolve": {"scale": {"y": "independent"}}}
  ], "spacing": 0, "resolve": {"scale": {"color": "independent"}, "legend": {"color": "independent"}}},
  {"width": 332, "height": 1, "view": {"fill": "#808080", "stroke": null}, "data": {"values": []}, "mark": "point",
   "title": {"text": ["资料来源：Wind，兴业证券经济与金融研究院整理", "注：截至 2023 年 6 月 15 日"], "orient": "bottom", "anchor": "start", "fontSize": 11.5, "fontWeight": "normal", "font": "Liberation Sans, Noto Sans CJK SC", "color": "#222222", "lineHeight": 21, "offset": 6}}
 ], "spacing": 8.5, "resolve": {"scale": {"color": "independent"}, "legend": {"color": "independent"}}},
 {"vconcat": [
  {"width": 329, "height": 1, "view": {"fill": "#808080", "stroke": null}, "data": {"values": []}, "mark": "point",
   "title": {"text": "图 8、2010 年以来 PE-TTM 及分位：环卫", "offset": 1}},
  {"hconcat": [
   {"width": 6, "height": 1, "data": {"values": []}, "mark": "point"},
   {"width": 222, "height": 129,
    "encoding": {"x": {"field": "t", "type": "quantitative", "scale": {"domain": [2010, 2023.46], "nice": false, "zero": false}, "axis": {"title": null, "values": [2010,2011,2012,2013,2014,2015,2016,2017,2018,2019,2020,2021,2022,2023], "format": "d", "labelAngle": -90, "labelAlign": "right", "labelBaseline": "middle", "labelOverlap": false, "ticks": false, "labelPadding": 4, "labelFontSize": 10}}},
    "layer": [
     {"data": {"name": "d8a"}, "mark": {"type": "line", "strokeWidth": 1.6},
      "encoding": {
       "y": {"field": "v", "type": "quantitative", "scale": {"domain": [0, 90], "nice": false}, "axis": {"title": null, "orient": "left", "values": [0,15,30,45,60,75,90], "minExtent": 30}},
       "color": {"datum": "环卫PE-TTM", "type": "nominal", "scale": {"domain": ["环卫PE-TTM", "环卫PE-TTM分位（右轴）"], "range": ["#e5262b", "#122a8c"]},
         "legend": {"title": null, "orient": "none", "legendX": 1, "legendY": 167, "direction": "horizontal", "labelFontSize": 10, "columnPadding": 10}}}},
     {"data": {"name": "d8b"}, "mark": {"type": "line", "strokeWidth": 1.6},
      "encoding": {
       "y": {"field": "v", "type": "quantitative", "scale": {"domain": [0, 100], "nice": false}, "axis": {"title": null, "orient": "right", "values": [0,20,40,60,80,100], "labelExpr": "datum.value + '%'"}},
       "color": {"datum": "环卫PE-TTM分位（右轴）", "type": "nominal"}}}
    ],
    "resolve": {"scale": {"y": "independent"}}}
  ], "spacing": 0, "resolve": {"scale": {"color": "independent"}, "legend": {"color": "independent"}}},
  {"width": 329, "height": 1, "view": {"fill": "#808080", "stroke": null}, "data": {"values": []}, "mark": "point",
   "title": {"text": ["资料来源：Wind，兴业证券经济与金融研究院整理", "注：截至 2023 年 6 月 15 日"], "orient": "bottom", "anchor": "start", "fontSize": 11.5, "fontWeight": "normal", "font": "Liberation Sans, Noto Sans CJK SC", "color": "#222222", "lineHeight": 21, "offset": 6}}
 ], "spacing": 7.5, "resolve": {"scale": {"color": "independent"}, "legend": {"color": "independent"}}}
], "spacing": 21, "resolve": {"scale": {"color": "independent"}, "legend": {"color": "independent"}}},
{"width": 1, "height": 27, "data": {"values": []}, "mark": "point"},
{"hconcat": [
 {"vconcat": [
  {"width": 332, "height": 1, "view": {"fill": "#808080", "stroke": null}, "data": {"values": []}, "mark": "point",
   "title": {"text": "图 9、2010 年以来 PE-TTM 及分位：水务及水处理", "offset": 17}},
  {"hconcat": [
   {"width": 22, "height": 1, "data": {"values": []}, "mark": "point"},
   {"width": 227, "height": 134,
    "encoding": {"x": {"field": "t", "type": "quantitative", "scale": {"domain": [2010, 2023.46], "nice": false, "zero": false}, "axis": {"title": null, "values": [2010,2011,2012,2013,2014,2015,2016,2017,2018,2019,2020,2021,2022,2023], "format": "d", "labelAngle": -90, "labelAlign": "right", "labelBaseline": "middle", "labelOverlap": false, "ticks": false, "labelPadding": 4, "labelFontSize": 10}}},
    "layer": [
     {"data": {"name": "d9a"}, "mark": {"type": "line", "strokeWidth": 1.6},
      "encoding": {
       "y": {"field": "v", "type": "quantitative", "scale": {"domain": [0, 80], "nice": false}, "axis": {"title": null, "orient": "left", "values": [0,20,40,60,80], "minExtent": 30}},
       "color": {"datum": "水务及水处理PE-TTM", "type": "nominal", "scale": {"domain": ["水务及水处理PE-TTM", "水务及水处理PE-TTM分位（右轴）"], "range": ["#e5262b", "#122a8c"]},
         "legend": {"title": null, "orient": "none", "legendX": 30, "legendY": 158, "direction": "vertical", "labelFontSize": 10, "rowPadding": 0}}}},
     {"data": {"name": "d9b"}, "mark": {"type": "line", "strokeWidth": 1.6},
      "encoding": {
       "y": {"field": "v", "type": "quantitative", "scale": {"domain": [0, 100], "nice": false}, "axis": {"title": null, "orient": "right", "values": [0,20,40,60,80,100], "labelExpr": "datum.value + '%'"}},
       "color": {"datum": "水务及水处理PE-TTM分位（右轴）", "type": "nominal"}}}
    ],
    "resolve": {"scale": {"y": "independent"}}}
  ], "spacing": 0, "resolve": {"scale": {"color": "independent"}, "legend": {"color": "independent"}}},
  {"width": 332, "height": 1, "view": {"fill": "#808080", "stroke": null}, "data": {"values": []}, "mark": "point",
   "title": {"text": ["资料来源：Wind，兴业证券经济与金融研究院整理", "注：截至 2023 年 6 月 15 日"], "orient": "bottom", "anchor": "start", "fontSize": 11.5, "fontWeight": "normal", "font": "Liberation Sans, Noto Sans CJK SC", "color": "#222222", "lineHeight": 21, "offset": 3}}
 ], "spacing": 6.5, "resolve": {"scale": {"color": "independent"}, "legend": {"color": "independent"}}},
 {"vconcat": [
  {"width": 329, "height": 1, "view": {"fill": "#808080", "stroke": null}, "data": {"values": []}, "mark": "point",
   "title": {"text": ["图 10、2010 年以来 PE-TTM 及分位：环境监测及其", "他环保设备"], "offset": 0, "lineHeight": 17}},
  {"hconcat": [
   {"width": 12, "height": 1, "data": {"values": []}, "mark": "point"},
   {"width": 216, "height": 115,
    "encoding": {"x": {"field": "t", "type": "quantitative", "scale": {"domain": [2010, 2023.46], "nice": false, "zero": false}, "axis": {"title": null, "values": [2010,2011,2012,2013,2014,2015,2016,2017,2018,2019,2020,2021,2022,2023], "format": "d", "labelAngle": -90, "labelAlign": "right", "labelBaseline": "middle", "labelOverlap": false, "ticks": false, "labelPadding": 4, "labelFontSize": 10}}},
    "layer": [
     {"data": {"name": "d10a"}, "mark": {"type": "line", "strokeWidth": 1.6},
      "encoding": {
       "y": {"field": "v", "type": "quantitative", "scale": {"domain": [0, 140], "nice": false}, "axis": {"title": null, "orient": "left", "values": [0,20,40,60,80,100,120,140], "minExtent": 30}},
       "color": {"datum": "环境监测及其他环保设备PE-TTM", "type": "nominal", "scale": {"domain": ["环境监测及其他环保设备PE-TTM", "环境监测及其他环保设备PE-TTM分位（右轴）"], "range": ["#e5262b", "#122a8c"]},
         "legend": {"title": null, "orient": "none", "legendX": -5, "legendY": 154, "direction": "vertical", "labelFontSize": 10, "rowPadding": 2.5}}}},
     {"data": {"name": "d10b"}, "mark": {"type": "line", "strokeWidth": 1.6},
      "encoding": {
       "y": {"field": "v", "type": "quantitative", "scale": {"domain": [0, 100], "nice": false}, "axis": {"title": null, "orient": "right", "values": [0,20,40,60,80,100], "labelExpr": "datum.value + '%'"}},
       "color": {"datum": "环境监测及其他环保设备PE-TTM分位（右轴）", "type": "nominal"}}}
    ],
    "resolve": {"scale": {"y": "independent"}}}
  ], "spacing": 0, "resolve": {"scale": {"color": "independent"}, "legend": {"color": "independent"}}},
  {"width": 329, "height": 1, "view": {"fill": "#808080", "stroke": null}, "data": {"values": []}, "mark": "point",
   "title": {"text": ["资料来源：Wind，兴业证券经济与金融研究院整理", "注：截至 2023 年 6 月 15 日"], "orient": "bottom", "anchor": "start", "fontSize": 11.5, "fontWeight": "normal", "font": "Liberation Sans, Noto Sans CJK SC", "color": "#222222", "lineHeight": 21, "offset": 3}}
 ], "spacing": 6.5, "resolve": {"scale": {"color": "independent"}, "legend": {"color": "independent"}}}
], "spacing": 21, "resolve": {"scale": {"color": "independent"}, "legend": {"color": "independent"}}},
{"width": 1, "height": 50, "data": {"values": []}, "mark": "point"},
{"width": 680, "height": 2, "view": {"fill": "#2b2e6e", "stroke": null}, "data": {"values": []}, "mark": "point",
 "title": {"text": "请务必阅读正文之后的信息披露和重要声明", "orient": "bottom", "anchor": "middle", "fontSize": 12, "font": "Noto Sans CJK SC", "fontWeight": "bold", "color": "#2e3270", "offset": 6}},
{"width": 680, "height": 1, "data": {"values": []}, "mark": "point",
 "title": {"text": "- 6 -", "orient": "bottom", "anchor": "end", "fontSize": 12, "font": "Liberation Serif", "fontWeight": "normal", "color": "#222222", "offset": 5}}
],
"config": {
 "view": {"stroke": null},
 "title": {"font": "Liberation Serif, Noto Sans CJK SC", "fontSize": 14, "fontWeight": "bold", "color": "#111111", "anchor": "start", "lineHeight": 18},
 "axis": {"labelFont": "Liberation Serif", "labelFontSize": 10.5, "labelColor": "#333333", "domainColor": "#333333", "tickColor": "#333333", "grid": false, "tickSize": 3, "labelPadding": 2, "labelOverlap": false},
 "legend": {"labelFont": "Liberation Serif, Noto Sans CJK SC", "labelColor": "#222222", "symbolType": "M-1,0H3", "symbolStrokeWidth": 2, "symbolSize": 156, "padding": 0, "labelLimit": 400, "labelOffset": 13.5},
 "line": {"strokeWidth": 1.6}
}
}
